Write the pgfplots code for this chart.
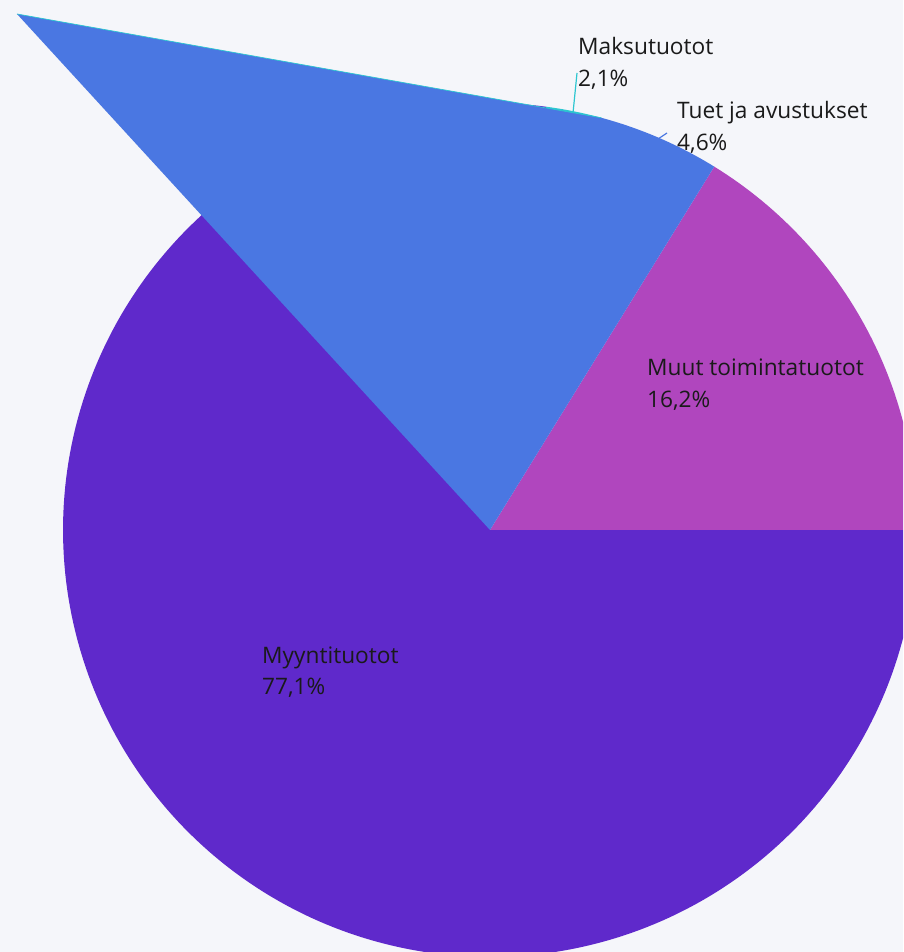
\documentclass[border=0pt]{standalone}
\usepackage{fontspec}
\setmainfont{Open Sans}
\usepackage{pgfplots}
\pgfplotsset{compat=1.18}
\definecolor{bg}{HTML}{F5F6FA}
\definecolor{cmyy}{HTML}{5F29CB}
\definecolor{cmuu}{HTML}{B046BE}
\definecolor{ctue}{HTML}{4A77E2}
\definecolor{cmak}{HTML}{2CC6D0}
\definecolor{txt}{HTML}{1A1A1A}
\tikzset{lbl/.style={anchor=base west, inner sep=0pt, text=txt, font=\fontsize{22.7}{30}\selectfont}}
\begin{document}
\begin{tikzpicture}
\fill[bg] (0,0) rectangle (903pt,952pt);
\begin{axis}[
  at={(0,0)}, anchor=south west,
  scale only axis, width=903pt, height=952pt,
  xmin=0, xmax=903, ymin=0, ymax=952,
  hide axis, clip=true,
]
% Myyntituotot 77.1% : 82.44 .. 360
\addplot[draw=none, fill=cmyy, domain=82.44:360, samples=240, variable=\t]
  ({490+427*cos(t)}, {422+427*sin(t)}) -- (axis cs:490,422) -- cycle;
% Muut toimintatuotot 16.2% : 0 .. 58.32
\addplot[draw=none, fill=cmuu, domain=0:58.32, samples=60, variable=\t]
  ({490+427*cos(t)}, {422+427*sin(t)}) -- (axis cs:490,422) -- cycle;
% Maksutuotot 2.1% : 74.88 .. 82.44
\addplot[draw=none, fill=cmak, domain=74.88:82.44, samples=20, variable=\t]
  ({490+427*cos(t)}, {422+427*sin(t)}) -- (axis cs:490,422) -- cycle;
% Tuet ja avustukset 4.6% : 58.32 .. 74.88 (drawn with stretched shape)
\addplot[draw=none, fill=ctue, domain=58.32:74.88, samples=30, variable=\t]
  ({490+427*cos(t)}, {422+427*sin(t)}) -- (axis cs:17,938) -- (axis cs:490,422) -- cycle;
\addplot[draw=cmak, line width=0.7pt] coordinates {(601.4,834.2) (17,938)};
% leader lines
\addplot[draw=cmak, line width=1.2pt] coordinates {(573,839) (577,879)};
\addplot[draw=ctue, line width=1.2pt] coordinates {(658,813) (667,819)};
% labels
\node[lbl] at (axis cs:578,897) {Maksutuotot};
\node[lbl] at (axis cs:578,865.5) {2,1\%};
\node[lbl] at (axis cs:677,833) {Tuet ja avustukset};
\node[lbl] at (axis cs:677,801.5) {4,6\%};
\node[lbl] at (axis cs:647,576.5) {Muut toimintatuotot};
\node[lbl] at (axis cs:647,544.5) {16,2\%};
\node[lbl] at (axis cs:262,288.5) {Myyntituotot};
\node[lbl] at (axis cs:262,257) {77,1\%};
\end{axis}
\end{tikzpicture}
\end{document}
